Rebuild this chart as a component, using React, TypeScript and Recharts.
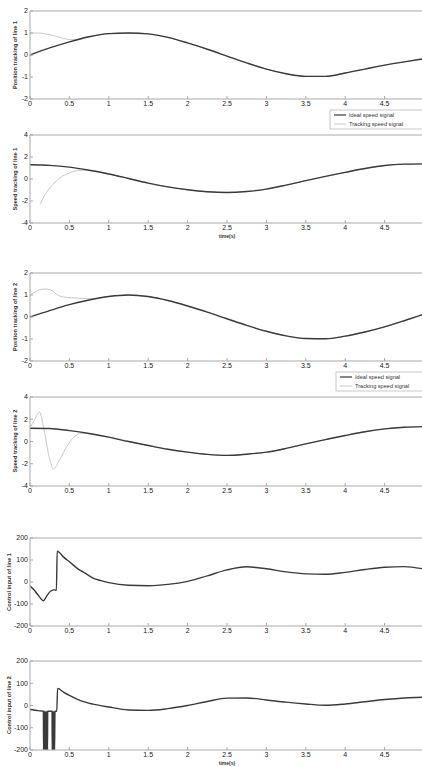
import React from "react";
import { LineChart, Line, XAxis, YAxis, ReferenceLine } from "recharts";

// common time grid for the reference signals (s)
const TIME = [0, 0.25, 0.5, 0.75, 1, 1.25, 1.5, 1.75, 2, 2.25, 2.5, 2.75, 3, 3.25, 3.5, 3.75, 4, 4.25, 4.5, 4.75, 5];

// ideal signals
const POS1 = [0, 0.32, 0.6, 0.83, 0.97, 1.0, 0.96, 0.8, 0.55, 0.26, -0.05, -0.36, -0.64, -0.85, -0.97, -0.97, -0.82, -0.64, -0.46, -0.31, -0.17];
const SPD1 = [1.29, 1.24, 1.08, 0.8, 0.46, 0.05, -0.37, -0.72, -0.98, -1.16, -1.23, -1.14, -0.92, -0.56, -0.15, 0.24, 0.6, 0.95, 1.23, 1.35, 1.38];
const POS2 = [0, 0.29, 0.56, 0.77, 0.93, 1.0, 0.93, 0.75, 0.5, 0.22, -0.08, -0.38, -0.65, -0.86, -0.98, -0.99, -0.87, -0.68, -0.45, -0.17, 0.13];
const SPD2 = [1.19, 1.17, 0.98, 0.72, 0.39, 0.0, -0.36, -0.7, -0.96, -1.16, -1.25, -1.14, -0.96, -0.62, -0.21, 0.17, 0.54, 0.88, 1.13, 1.28, 1.34];

// tracking transients (after these the tracking signal sits on the ideal one)
const TRK_POS1_T = [0, 0.1, 0.2, 0.3, 0.4, 0.5, 0.6];
const TRK_POS1_V = [1.0, 1.0, 0.96, 0.88, 0.78, 0.7, 0.69];
const TRK_SPD1_T = [0.13, 0.18, 0.26, 0.38, 0.5, 0.62];
const TRK_SPD1_V = [-2.3, -1.55, -0.75, 0.1, 0.55, 0.78];
const TRK_POS2_T = [0, 0.05, 0.1, 0.2, 0.28, 0.35, 0.45, 0.6, 0.8];
const TRK_POS2_V = [1.0, 1.1, 1.22, 1.27, 1.2, 1.0, 0.9, 0.86, 0.83];
const TRK_SPD2_T = [0, 0.06, 0.12, 0.18, 0.24, 0.3, 0.38, 0.47, 0.56, 0.65];
const TRK_SPD2_V = [1.2, 2.0, 2.65, 1.0, -1.3, -2.45, -1.6, -0.4, 0.4, 0.75];

// control inputs
const CTRL1_T = [0, 0.05, 0.1, 0.17, 0.21, 0.26, 0.31, 0.335, 0.345, 0.43, 0.5, 0.6, 0.7, 0.8, 0.9, 1.0, 1.25, 1.5, 1.75, 2, 2.25, 2.5, 2.75, 3, 3.25, 3.5, 3.75, 4, 4.25, 4.5, 4.75, 5];
const CTRL1_V = [-18, -35, -58, -85, -65, -42, -36, -38, 140, 112, 92, 62, 40, 18, 6, -3, -15, -17, -11, 3, 28, 55, 69, 60, 46, 37, 35, 44, 57, 67, 70, 59];

const CTRL2_T = [
  0, 0.05, 0.1, 0.15, 0.17,
  0.172, 0.177, 0.182, 0.187, 0.192, 0.197, 0.202, 0.207, 0.212, 0.217, 0.222,
  0.225, 0.26, 0.28,
  0.282, 0.287, 0.292, 0.297, 0.302, 0.307, 0.312, 0.317,
  0.32, 0.34, 0.35, 0.43, 0.5, 0.64, 0.8, 1.0,
  1.25, 1.5, 1.75, 2, 2.25, 2.5, 2.75, 3, 3.25, 3.5, 3.75, 4, 4.25, 4.5, 4.75, 5,
];
const CTRL2_V = [
  -18, -20, -23, -25, -26,
  -200, -26, -200, -26, -200, -26, -200, -26, -200, -26, -200,
  -26, -26, -26,
  -200, -26, -200, -26, -200, -26, -200, -26,
  -26, -26, 77, 59, 45, 22, 6, -7,
  -20, -22, -14, 0, 18, 33, 34, 25, 15, 7, 1, 7, 17, 27, 34, 37,
];

const X_TICKS = [0, 0.5, 1, 1.5, 2, 2.5, 3, 3.5, 4, 4.5];
const POS_TICKS = [-2, -1, 0, 1, 2];
const SPD_TICKS = [-4, -2, 0, 2, 4];
const CTRL_TICKS = [-200, -100, 0, 100, 200];

const FONT = "'Liberation Sans', Arial, sans-serif";
const AXIS = "#a8a8a8";
const IDEAL = "#3a3a3a";
const TRACK = "#c8c8c8";
const TICK = { fill: "#222", fontSize: 7, fontFamily: FONT };

type Row = { t: number; v: number };

const rows = (ts: number[], vs: number[]): Row[] => ts.map((t, i) => ({ t, v: vs[i] }));

// transient first, then the ideal samples after it
const tracking = (ts: number[], vs: number[], ideal: Row[]): Row[] => {
  const last = ts[ts.length - 1];
  return [...rows(ts, vs), ...ideal.filter((r) => r.t > last)];
};

const ideal1 = rows(TIME, POS1);
const ideal2 = rows(TIME, SPD1);
const ideal3 = rows(TIME, POS2);
const ideal4 = rows(TIME, SPD2);

type PlotProps = {
  top: number;
  bottom: number;
  domain: [number, number];
  ticks: number[];
  ideal: Row[];
  track?: Row[];
};

function Plot({ top, bottom, domain, ticks, ideal, track }: PlotProps) {
  const pad = 4;
  const xh = 16;
  const h = bottom - top + pad + xh;
  return (
    <div style={{ position: "absolute", left: 0, top: top - pad }}>
      <LineChart width={424} height={h} margin={{ top: pad, right: 0, left: 0, bottom: 0 }}>
        <ReferenceLine y={domain[1]} stroke={AXIS} />
        <XAxis
          dataKey="t"
          type="number"
          domain={[0, 5]}
          ticks={X_TICKS}
          allowDataOverflow
          height={xh}
          stroke={AXIS}
          tick={TICK}
          tickSize={-3}
          tickMargin={5}
        />
        <YAxis
          type="number"
          domain={domain}
          ticks={ticks}
          allowDataOverflow
          width={30}
          stroke={AXIS}
          tick={TICK}
          tickSize={-3}
          tickMargin={5}
        />
        {track && (
          <Line data={track} dataKey="v" type="monotone" stroke={TRACK} strokeWidth={1} dot={false} isAnimationActive={false} />
        )}
        <Line data={ideal} dataKey="v" type="monotone" stroke={IDEAL} strokeWidth={1.4} dot={false} isAnimationActive={false} />
      </LineChart>
    </div>
  );
}

function YTitle({ x, y, text }: { x: number; y: number; text: string }) {
  return (
    <text
      x={x}
      y={y}
      transform={`rotate(-90 ${x} ${y})`}
      textAnchor="middle"
      dominantBaseline="middle"
      fontSize={5.6}
      fontWeight="bold"
      fill="#333"
      fontFamily={FONT}
    >
      {text}
    </text>
  );
}

function LegendBox({ x, y }: { x: number; y: number }) {
  return (
    <g fontFamily={FONT} fontSize={5.6} fill="#333">
      <rect x={x} y={y} width={94} height={19} fill="#fff" stroke="#bbb" strokeWidth={0.8} />
      <line x1={x + 4} x2={x + 16} y1={y + 5} y2={y + 5} stroke={IDEAL} strokeWidth={1.2} />
      <text x={x + 19} y={y + 7}>Ideal speed signal</text>
      <line x1={x + 4} x2={x + 16} y1={y + 14} y2={y + 14} stroke={TRACK} strokeWidth={1} />
      <text x={x + 19} y={y + 16}>Tracking speed signal</text>
    </g>
  );
}

export default function App() {
  return (
    <div style={{ position: "relative", width: 422, height: 767, overflow: "hidden", background: "#fff" }}>
      <style>{`body{margin:0}`}</style>
      <Plot top={11} bottom={99} domain={[-2, 2]} ticks={POS_TICKS} ideal={ideal1} track={tracking(TRK_POS1_T, TRK_POS1_V, ideal1)} />
      <Plot top={135} bottom={223} domain={[-4, 4]} ticks={SPD_TICKS} ideal={ideal2} track={tracking(TRK_SPD1_T, TRK_SPD1_V, ideal2)} />
      <Plot top={273} bottom={361} domain={[-2, 2]} ticks={POS_TICKS} ideal={ideal3} track={tracking(TRK_POS2_T, TRK_POS2_V, ideal3)} />
      <Plot top={397} bottom={486} domain={[-4, 4]} ticks={SPD_TICKS} ideal={ideal4} track={tracking(TRK_SPD2_T, TRK_SPD2_V, ideal4)} />
      <Plot top={538} bottom={626} domain={[-200, 200]} ticks={CTRL_TICKS} ideal={rows(CTRL1_T, CTRL1_V)} />
      <Plot top={661} bottom={750} domain={[-200, 200]} ticks={CTRL_TICKS} ideal={rows(CTRL2_T, CTRL2_V)} />
      <svg width={422} height={767} style={{ position: "absolute", left: 0, top: 0, pointerEvents: "none" }}>
        <YTitle x={16} y={55} text="Position tracking of line 1" />
        <YTitle x={16} y={179} text="Speed tracking of line 1" />
        <YTitle x={16} y={317} text="Position tracking of line 2" />
        <YTitle x={16} y={441} text="Speed tracking of line 2" />
        <YTitle x={10} y={582} text="Control input of line 1" />
        <YTitle x={10} y={705} text="Control input of line 2" />
        <text x={227} y={238} textAnchor="middle" fontSize={5} fontWeight="bold" fill="#333" fontFamily={FONT}>time(s)</text>
        <text x={227} y={765} textAnchor="middle" fontSize={5} fontWeight="bold" fill="#333" fontFamily={FONT}>time(s)</text>
        <LegendBox x={330} y={110} />
        <LegendBox x={336} y={372} />
      </svg>
    </div>
  );
}
